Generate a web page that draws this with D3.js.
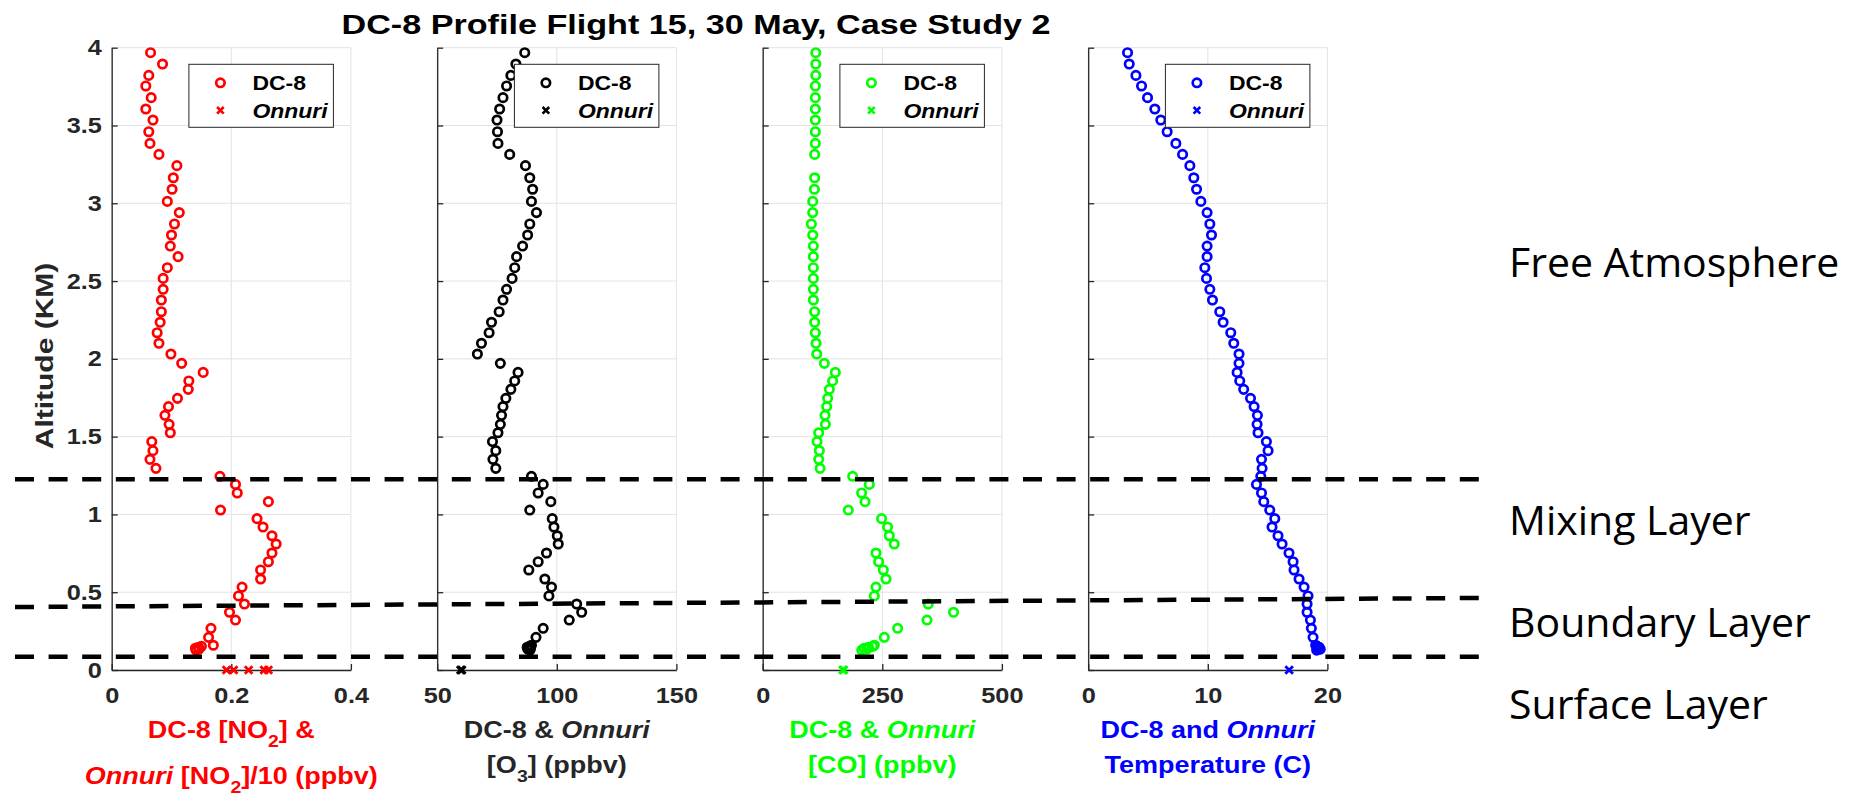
<!DOCTYPE html>
<html>
<head>
<meta charset="utf-8">
<script src="https://cdn.jsdelivr.net/npm/d3@7"></script>
<style>
  html, body { margin: 0; padding: 0; background: #fff; }
  svg { display: block; }
  text { white-space: pre; }
</style>
</head>
<body>
<svg id="fig" width="1853" height="796"></svg>
<script>
// ---------------- data ----------------
// Sampling altitudes of the DC-8 spiral (km), shared by all four profiles
const altitudeKm = [3.968,3.895,3.822,3.754,3.679,3.606,3.535,3.460,3.385,3.314,
  3.242,3.164,3.090,3.012,2.940,2.867,2.796,2.725,2.657,2.586,
  2.517,2.447,2.378,2.303,2.235,2.168,2.100,2.031,1.971,1.913,
  1.858,1.804,1.746,1.693,1.637,1.579,1.525,1.468,1.410,1.354,
  1.296,1.245,1.193,1.138,1.082,1.028,0.973,0.919,0.863,0.810,
  0.752,0.696,0.643,0.585,0.533,0.476,0.424,0.371,0.321,0.268,
  0.210,0.159,0.152,0.146,0.140,0.134,0.128];

// DC-8 NO2 (ppbv)
const no2 = [0.065,0.085,0.062,0.057,0.066,0.057,0.069,0.062,0.064,0.079,
  0.109,0.103,0.101,0.093,0.113,0.105,0.100,0.098,0.111,0.093,
  0.086,0.086,0.083,0.083,0.081,0.076,0.079,0.099,0.117,0.153,
  0.129,0.128,0.110,0.095,0.089,0.096,0.098,0.067,0.069,0.064,
  0.074,0.181,0.207,0.210,0.262,0.182,0.243,0.253,0.268,0.275,
  0.268,0.262,0.249,0.249,0.218,0.212,0.222,0.197,0.207,0.166,
  0.162,0.170,0.150,0.145,0.140,0.146,0.141];

// DC-8 O3 (ppbv)
const o3 = [86.6,82.9,80.8,79.0,77.5,76.1,75.0,75.2,75.4,80.3,
  86.9,88.7,89.9,89.4,91.5,88.7,87.8,85.7,83.2,82.4,
  81.3,79.0,77.5,75.9,72.7,71.7,68.5,66.8,76.4,83.8,
  82.4,80.8,78.7,77.5,76.9,76.4,75.4,73.1,74.5,73.3,
  74.5,89.4,94.3,92.2,97.5,88.7,98.1,98.8,100.2,100.6,
  95.7,92.2,88.3,95.0,97.8,96.7,108.3,110.4,105.2,94.3,
  91.3,89.4,88.6,87.6,89.0,87.9,88.8];

// DC-8 CO (ppbv); null where no sample was recorded
const co = [111,111,111,110,110,110,110,110,110,108.6,
  null,108.6,108,104.5,104.5,101.7,104.5,105.9,105.9,105.9,
  105.9,105.9,105.9,108.6,108.6,110,111.5,113,128.9,151.8,
  146.2,139.3,135.8,133.7,130.3,131,117,113.6,118.4,117,
  119.9,188,222.8,206.8,213.9,179,248.5,261,264.6,275,
  236.8,242.3,252.1,257.7,236.8,233.3,346,398.9,343.4,282,
  254.2,233.3,230,221,212,218,207];

// DC-8 temperature (C)
const tempC = [3.29,3.43,3.99,4.46,4.96,5.57,6.07,6.6,7.33,7.89,
  8.5,8.83,9.06,9.42,9.94,10.17,10.31,9.94,9.94,9.75,
  9.89,10.17,10.39,11.0,11.28,11.92,12.17,12.61,12.61,12.45,
  12.67,13.0,13.57,13.87,14.15,14.12,14.2,14.9,15.04,14.49,
  14.54,14.43,14.07,14.49,14.68,15.18,15.6,15.37,15.87,16.21,
  16.79,17.13,17.21,17.63,18.05,18.38,18.3,18.3,18.58,18.66,
  18.8,19.02,19.15,19.3,19.2,19.4,19.1];

// Onnuri surface measurements (altitude 0 km)
const onnuriNo2 = [0.192,0.204,0.229,0.255,0.262];   // NO2 / 10
const onnuriO3 = [59.8,60.3];
const onnuriCo = [167.5,169.5];
const onnuriTemp = [16.8];

// axis ticks
const altTicks = [0,0.5,1,1.5,2,2.5,3,3.5,4];
const altTickLabels = ["0","0.5","1","1.5","2","2.5","3","3.5","4"];
const no2Ticks = [0,0.2,0.4];
const no2TickLabels = ["0","0.2","0.4"];
const o3Ticks = [50,100,150];
const o3TickLabels = ["50","100","150"];
const coTicks = [0,250,500];
const coTickLabels = ["0","250","500"];
const tempTicks = [0,10,20];
const tempTickLabels = ["0","10","20"];

// layer boundaries (km) at the left and right ends of each divider
const boundaryLeftKm = [1.226, 0.405, 0.085];
const boundaryRightKm = [1.226, 0.463, 0.085];
const layerNames = ["Free Atmosphere", "Mixing Layer", "Boundary Layer", "Surface Layer"];

const figTitle = "DC-8 Profile Flight 15, 30 May, Case Study 2";
const yTitle = "Altitude (KM)";
const legendNames = ["DC-8", "Onnuri"];

// ---------------- layout ----------------
const FONT = "'Liberation Sans', Arial, Helvetica, sans-serif";
const SX = 1.15;                 // horizontal stretch of the figure lettering
const AX_COLOR = "#262626";
const GRID_COLOR = "#e3e3e3";
const plotTop = 47.7, plotBottom = 670;
const panelLeft0 = 111.7, panelStep = 325.5, panelW = 239.2;
const MARK_R = 4.2, MARK_W = 2.7;

const svg = d3.select("#fig");
const y = d3.scaleLinear().domain([0, 4]).range([plotBottom, plotTop]);

const panels = [
  { values: no2, onnuri: onnuriNo2, domain: [0, 0.4], ticks: no2Ticks, tickLabels: no2TickLabels,
    color: "#ff0000", labelColor: "#ff0000", line2Shift: 11,
    label: [
      [{t: "DC-8 [NO"}, {t: "2", sub: true}, {t: "] &"}],
      [{t: "Onnuri", it: true}, {t: " [NO"}, {t: "2", sub: true}, {t: "]/10 (ppbv)"}]
    ] },
  { values: o3, onnuri: onnuriO3, domain: [50, 150], ticks: o3Ticks, tickLabels: o3TickLabels,
    color: "#000000", labelColor: "#262626", line2Shift: 0,
    label: [
      [{t: "DC-8 & "}, {t: "Onnuri", it: true}],
      [{t: "[O"}, {t: "3", sub: true}, {t: "] (ppbv)"}]
    ] },
  { values: co, onnuri: onnuriCo, domain: [0, 500], ticks: coTicks, tickLabels: coTickLabels,
    color: "#00ff00", labelColor: "#00ff00", line2Shift: 0,
    label: [
      [{t: "DC-8 & "}, {t: "Onnuri", it: true}],
      [{t: "[CO] (ppbv)"}]
    ] },
  { values: tempC, onnuri: onnuriTemp, domain: [0, 20], ticks: tempTicks, tickLabels: tempTickLabels,
    color: "#0000ff", labelColor: "#0000ff", line2Shift: 0,
    label: [
      [{t: "DC-8 and "}, {t: "Onnuri", it: true}],
      [{t: "Temperature (C)"}]
    ] }
];

// stretched text helper: returns the <text> inside a positioned group
function stretchedText(parent, x, yPos, sx, anchor) {
  return parent.append("g")
    .attr("transform", `translate(${x},${yPos}) scale(${sx},1)`)
    .append("text")
    .attr("text-anchor", anchor)
    .attr("font-family", FONT);
}

function richText(textSel, parts, size) {
  parts.forEach((p, i) => {
    const ts = textSel.append("tspan").text(p.t);
    if (p.it) ts.attr("font-style", "italic");
    if (p.sub) ts.attr("font-size", size * 0.72).attr("dy", 9);
    else if (i > 0 && parts[i - 1].sub) ts.attr("dy", -9);
  });
}

panels.forEach((p, i) => {
  const left = panelLeft0 + i * panelStep;
  const x = d3.scaleLinear().domain(p.domain).range([left, left + panelW]);
  const g = svg.append("g");

  // grid
  g.append("g").selectAll("line").data(p.ticks).join("line")
    .attr("x1", d => x(d)).attr("x2", d => x(d))
    .attr("y1", y(0)).attr("y2", y(4))
    .attr("stroke", GRID_COLOR).attr("stroke-width", 1);
  g.append("g").selectAll("line").data(altTicks).join("line")
    .attr("x1", x(p.domain[0])).attr("x2", x(p.domain[1]))
    .attr("y1", d => y(d)).attr("y2", d => y(d))
    .attr("stroke", GRID_COLOR).attr("stroke-width", 1);

  // axes (ticks point inward)
  const yAxis = d3.axisLeft(y).tickValues(altTicks).tickSizeInner(-6).tickSizeOuter(0)
    .tickPadding(8.5)
    .tickFormat((d, k) => i === 0 ? altTickLabels[k] : "");
  const ya = g.append("g").attr("transform", `translate(${left},0)`).call(yAxis);

  const xAxis = d3.axisBottom(x).tickValues(p.ticks).tickSizeInner(-6).tickSizeOuter(0)
    .tickPadding(17).tickFormat((d, k) => p.tickLabels[k]);
  const xa = g.append("g").attr("transform", `translate(0,${plotBottom})`).call(xAxis);

  [ya, xa].forEach(a => {
    a.attr("font-family", FONT).attr("font-size", 22).attr("font-weight", "bold");
    a.select(".domain").attr("stroke", AX_COLOR).attr("stroke-width", 1.3);
    a.selectAll(".tick line").attr("stroke", AX_COLOR).attr("stroke-width", 1.3);
    a.selectAll(".tick text").attr("fill", AX_COLOR).attr("transform", `scale(${SX},1)`);
  });

  // DC-8 profile
  const pts = p.values.map((v, k) => ({ v, a: altitudeKm[k] })).filter(d => d.v !== null);
  g.append("g").selectAll("circle").data(pts).join("circle")
    .attr("cx", d => x(d.v)).attr("cy", d => y(d.a)).attr("r", MARK_R)
    .attr("fill", "none").attr("stroke", p.color).attr("stroke-width", MARK_W);

  // Onnuri surface values
  const cross = "M-3.8,-3.8L3.8,3.8M-3.8,3.8L3.8,-3.8";
  g.append("g").selectAll("path").data(p.onnuri).join("path")
    .attr("d", cross)
    .attr("transform", d => `translate(${x(d)},${y(0)})`)
    .attr("stroke", p.color).attr("stroke-width", 2.8).attr("fill", "none");

  // legend
  const lgW = 144.5, lgH = 63;
  const lg = g.append("g").attr("transform", `translate(${left + panelW - 17.5 - lgW},64.3)`);
  lg.append("rect").attr("width", lgW).attr("height", lgH)
    .attr("fill", "#fff").attr("stroke", AX_COLOR).attr("stroke-width", 1);
  lg.append("circle").attr("cx", 31.5).attr("cy", 18.5).attr("r", MARK_R)
    .attr("fill", "none").attr("stroke", p.color).attr("stroke-width", MARK_W);
  lg.append("path").attr("d", "M-3.3,-3.3L3.3,3.3M-3.3,3.3L3.3,-3.3").attr("transform", "translate(31.5,46)")
    .attr("stroke", p.color).attr("stroke-width", 2.6).attr("fill", "none");
  stretchedText(lg, 63.5, 25.8, 1.12, "start")
    .attr("font-size", 20.5).attr("font-weight", "bold").attr("fill", "#000")
    .text(legendNames[0]);
  stretchedText(lg, 63.5, 53.6, 1.12, "start")
    .attr("font-size", 20.5).attr("font-weight", "bold").attr("font-style", "italic")
    .attr("fill", "#000").text(legendNames[1]);

  // x-axis label (two lines)
  const cx = left + panelW / 2;
  const l1 = stretchedText(g, cx, 738, SX, "middle")
    .attr("font-size", 23.5).attr("font-weight", "bold").attr("fill", p.labelColor);
  richText(l1, p.label[0], 23.5);
  const l2 = stretchedText(g, cx, 773 + p.line2Shift, SX, "middle")
    .attr("font-size", 23.5).attr("font-weight", "bold").attr("fill", p.labelColor);
  richText(l2, p.label[1], 23.5);
});

// y-axis title
svg.append("g").attr("transform", `translate(53,356) rotate(-90) scale(1.25,1)`)
  .append("text").attr("text-anchor", "middle").attr("font-family", FONT)
  .attr("font-size", 24).attr("font-weight", "bold").attr("fill", AX_COLOR)
  .text(yTitle);

// figure title
stretchedText(svg, 696, 34, 1.22, "middle")
  .attr("font-size", 28).attr("font-weight", "bold").attr("fill", "#000")
  .text(figTitle);

// layer dividers across all panels
const dividerX0 = 15, dividerX1 = 1480;
svg.append("g").selectAll("line").data(boundaryLeftKm).join("line")
  .attr("x1", dividerX0).attr("x2", dividerX1)
  .attr("y1", d => y(d)).attr("y2", (d, k) => y(boundaryRightKm[k]))
  .attr("stroke", "#000").attr("stroke-width", 4.5)
  .attr("stroke-dasharray", "19 14.6");

// layer names
const layerBaselines = [277, 535, 637, 719];
svg.append("g").selectAll("text").data(layerNames).join("text")
  .attr("x", 1509).attr("y", (d, k) => layerBaselines[k])
  .attr("font-family", "'Open Sans', sans-serif").attr("font-size", 41)
  .attr("fill", "#000").text(d => d);
</script>
</body>
</html>
